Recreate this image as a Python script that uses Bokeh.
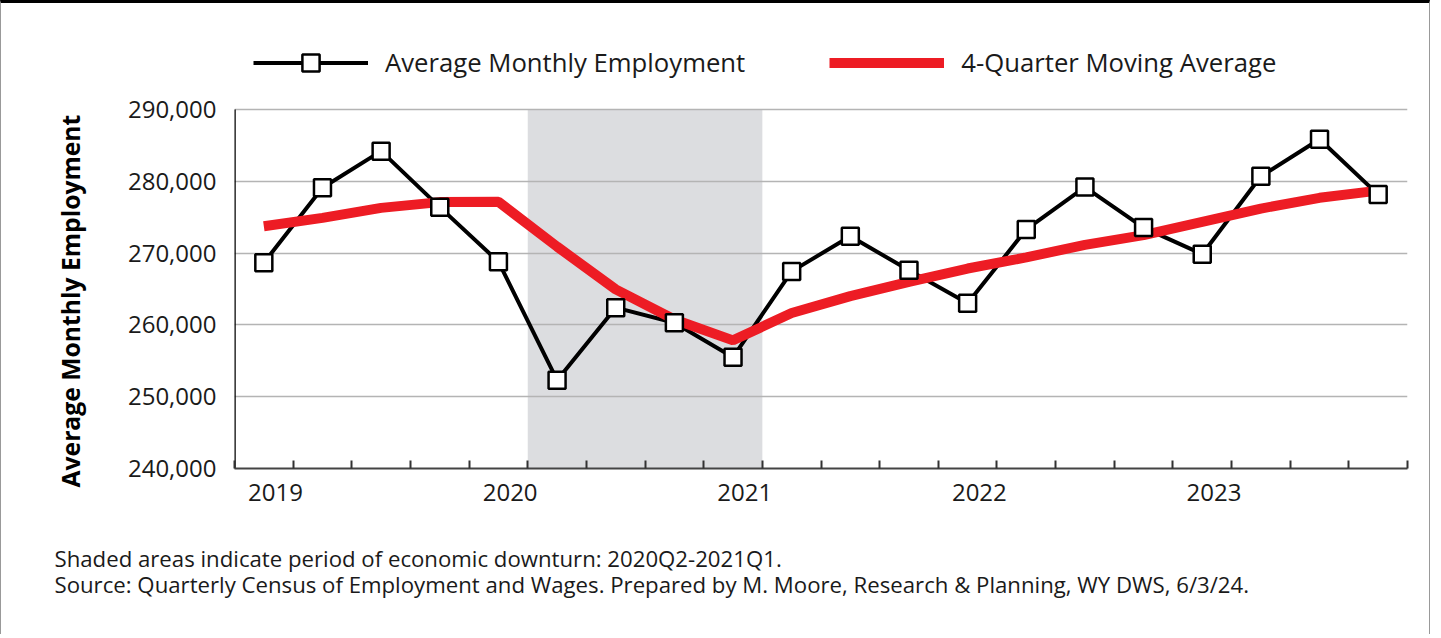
import numpy as np
from bokeh.plotting import figure
from bokeh.models import (FixedTicker, NumeralTickFormatter, BoxAnnotation, Legend,
                          LegendItem, Title, Range1d, ColumnDataSource)
from bokeh.embed import file_html
from bokeh.resources import INLINE

# ---------------- data ----------------
quarters = ["2019Q1", "2019Q2", "2019Q3", "2019Q4",
            "2020Q1", "2020Q2", "2020Q3", "2020Q4",
            "2021Q1", "2021Q2", "2021Q3", "2021Q4",
            "2022Q1", "2022Q2", "2022Q3", "2022Q4",
            "2023Q1", "2023Q2", "2023Q3", "2023Q4"]
employment = [268650, 279100, 284200, 276400,
              268800, 252300, 262400, 260300,
              255500, 267450, 272350, 267600,
              263000, 273300, 279200, 273550,
              269850, 280700, 285850, 278150]
moving_avg = [273750, 274900, 276300, 277100,
              277150, 270900, 264950, 260750,
              257850, 261650, 264000, 266000,
              267850, 269400, 271150, 272500,
              274350, 276200, 277700, 278700]
years = ["2019", "2020", "2021", "2022", "2023"]
y_ticks = [240000, 250000, 260000, 270000, 280000, 290000]
downturn = ("2020Q2", "2021Q1")
footnotes = ["Shaded areas indicate period of economic downturn: 2020Q2-2021Q1.",
             "Source: Quarterly Census of Employment and Wages. Prepared by M. Moore, "
             "Research & Planning, WY DWS, 6/3/24."]

FONT = "Open Sans"
TXT = "#1a1a1a"

# layout (pixels)
W, H = 1430, 634
FRAME_LEFT, FRAME_RIGHT_PAD = 233, 24
FRAME_TOP = 30            # frame extends above the value area to hold the legend
VALUE_TOP, VALUE_BOTTOM = 106, 465
px_per_unit = (VALUE_BOTTOM - VALUE_TOP) / (y_ticks[-1] - y_ticks[0])
y_end = y_ticks[-1] + (VALUE_TOP - FRAME_TOP) / px_per_unit

x = np.arange(len(quarters)) + 0.5
src = ColumnDataSource(dict(x=x, emp=employment, ma=moving_avg, q=quarters))

p = figure(width=W, height=H, output_backend="svg", toolbar_location=None,
           x_range=Range1d(0, len(quarters)), y_range=Range1d(y_ticks[0], y_end),
           min_border_left=FRAME_LEFT, min_border_right=FRAME_RIGHT_PAD,
           min_border_top=FRAME_TOP, min_border_bottom=H - VALUE_BOTTOM,
           background_fill_color="white", border_fill_color="white",
           styles={"border-top": "3px solid black", "border-left": "1px solid #999999",
                   "border-right": "1px solid #999999"})
p.outline_line_color = None

# shaded downturn period
start = quarters.index(downturn[0])
end = quarters.index(downturn[1]) + 1
p.add_layout(BoxAnnotation(left=start, right=end, bottom=y_ticks[0], top=y_ticks[-1],
                           fill_color="#dcdde0", fill_alpha=1.0,
                           line_color=None, level="image"))

# grid
p.xgrid.visible = False
p.ygrid.ticker = FixedTicker(ticks=y_ticks)
p.ygrid.grid_line_color = "#b4b4b4"
p.ygrid.grid_line_width = 1.5

# y axis line (only over the value range)
p.segment(x0=[0], y0=[y_ticks[0]], x1=[0], y1=[y_ticks[-1]], line_color="black", line_width=2.5)

# series
emp_line = p.line("x", "emp", source=src, line_color="black", line_width=4)
ma_line = p.line("x", "ma", source=src, line_color="#ed1c24", line_width=10)
emp_pts = p.scatter("x", "emp", source=src, marker="square", size=17,
                    fill_color="white", line_color="black", line_width=2.5)

# x axis: year labels, boundary tick marks
year_pos = [4 * i + 0.7 for i in range(len(years))]
xa = p.xaxis[0]
xa.ticker = FixedTicker(ticks=year_pos, minor_ticks=list(range(len(quarters) + 1)))
xa.major_label_overrides = {pos: yr for pos, yr in zip(year_pos, years)}
xa.major_tick_line_color = None
xa.minor_tick_in = 8
xa.minor_tick_out = 0
xa.minor_tick_line_color = "#333333"
xa.minor_tick_line_width = 2
xa.axis_line_color = "#444444"
xa.axis_line_width = 2
xa.major_label_text_font = FONT
xa.major_label_text_font_size = "24px"
xa.major_label_text_color = TXT
xa.major_label_standoff = 9

# y axis
ya = p.yaxis[0]
ya.ticker = FixedTicker(ticks=y_ticks)
ya.formatter = NumeralTickFormatter(format="0,0")
ya.major_tick_line_color = None
ya.minor_tick_line_color = None
ya.axis_line_color = None
ya.major_label_text_font = FONT
ya.major_label_text_font_size = "24px"
ya.major_label_text_color = TXT
ya.major_label_standoff = 12

# y axis title, starting just below the value range
ytitle = Title(text="Average Monthly Employment", align="left", offset=-19,
               text_font=FONT, text_font_size="24.7px", text_font_style="bold",
               text_color="black", standoff=75)
p.add_layout(ytitle, "left")

# legend
legend = Legend(items=[
    LegendItem(label="Average Monthly Employment", renderers=[emp_line, emp_pts]),
    LegendItem(label="4-Quarter Moving Average", renderers=[ma_line]),
], orientation="horizontal", location=(19, VALUE_BOTTOM - 60 - 21), padding=0, margin=0,
    glyph_width=115, glyph_height=43, label_standoff=17, spacing=84,
    label_text_font=FONT, label_text_font_size="25.7px", label_text_color=TXT,
    background_fill_alpha=0, border_line_alpha=0)
p.add_layout(legend, "center")

# footnotes (one two-line title below the axis)
note = Title(text="\n".join(footnotes), align="left", offset=-180,
             text_font=FONT, text_font_size="22.2px", text_font_style="normal",
             text_color=TXT, text_line_height=0.86, standoff=74)
p.add_layout(note, "below")

open("out.html", "w").write(file_html(p, INLINE))
